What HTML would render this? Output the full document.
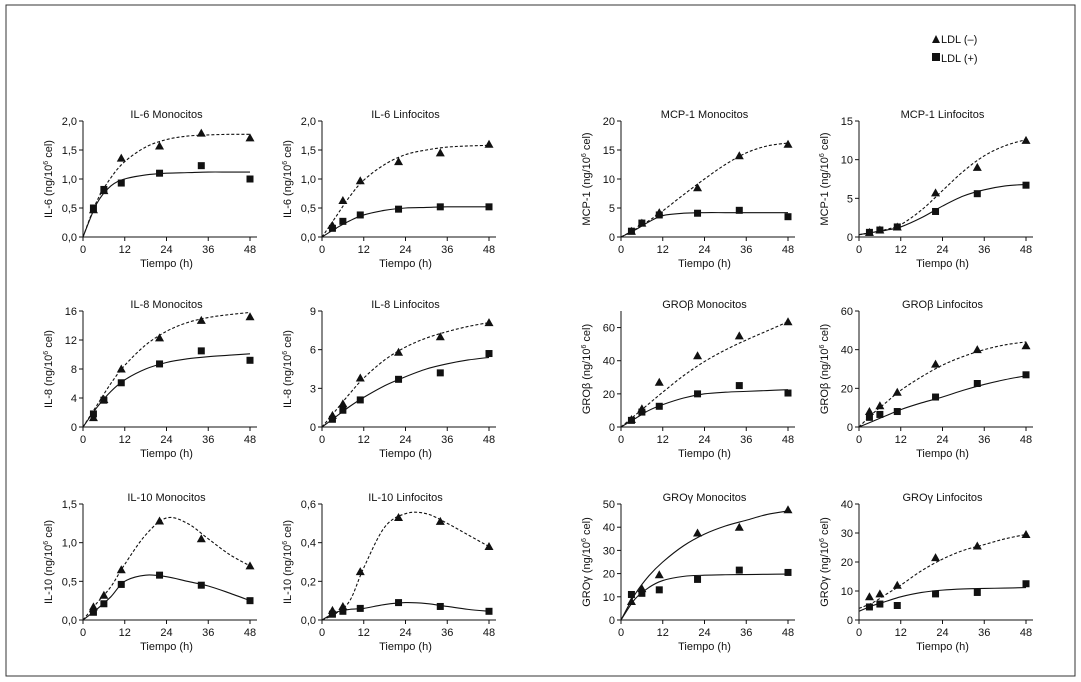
<!DOCTYPE html>
<html><head><meta charset="utf-8">
<style>
html,body{margin:0;padding:0;background:#fff;}
svg{display:block;font-family:"Liberation Sans",Arial,sans-serif;}
</style></head>
<body>
<svg id="fig" width="1081" height="682" viewBox="0 0 1081 682">
<rect x="6" y="5" width="1069" height="671" fill="none" stroke="#333" stroke-width="1"/>
<g>
<polygon points="932,43 936,35 940,43" fill="#111"/>
<text x="941" y="43" font-size="11" fill="#111">LDL (–)</text>
<rect x="932" y="53" width="8" height="8" fill="#111"/>
<text x="941" y="62" font-size="11" fill="#111">LDL (+)</text>
</g>
</svg>
<script>
const times=[3,6,11,22,34,48];
const curveT=[0,4,8,12,18,24,30,36,42,48];
const xTicks=[0,12,24,36,48];
const titles=["IL-6 Monocitos","IL-6 Linfocitos","MCP-1 Monocitos","MCP-1 Linfocitos","IL-8 Monocitos","IL-8 Linfocitos","GROβ Monocitos","GROβ Linfocitos","IL-10 Monocitos","IL-10 Linfocitos","GROγ Monocitos","GROγ Linfocitos"];
const yNames=["IL-6","IL-6","MCP-1","MCP-1","IL-8","IL-8","GROβ","GROβ","IL-10","IL-10","GROγ","GROγ"];
const yMax=[2,2,20,15,16,9,70,60,1.5,0.6,50,40];
const yTicks=[[0,0.5,1,1.5,2],[0,0.5,1,1.5,2],[0,5,10,15,20],[0,5,10,15],[0,4,8,12,16],[0,3,6,9],[0,20,40,60],[0,20,40,60],[0,0.5,1,1.5],[0,0.2,0.4,0.6],[0,10,20,30,40,50],[0,10,20,30,40]];
const yDec=[1,1,0,0,0,0,0,0,1,1,0,0];
const triVals=[
[0.47,0.8,1.36,1.57,1.79,1.71],
[0.2,0.63,0.97,1.3,1.45,1.6],
[1,2.4,4.2,8.5,14,16],
[0.6,0.9,1.3,5.7,9,12.5],
[1.3,3.8,8,12.3,14.7,15.2],
[0.9,1.8,3.8,5.8,7,8.1],
[4.5,11,27,43,55,63.5],
[8,11,18,32.5,40,42],
[0.17,0.32,0.65,1.28,1.05,0.7],
[0.05,0.07,0.25,0.53,0.51,0.38],
[8,13.5,19.5,37.5,40,47.5],
[8,9,12,21.5,25.5,29.5]];
const sqVals=[
[0.5,0.82,0.93,1.1,1.23,1.0],
[0.15,0.27,0.38,0.48,0.52,0.52],
[1,2.4,3.8,4.1,4.6,3.5],
[0.6,0.9,1.3,3.3,5.6,6.7],
[1.8,3.7,6.1,8.7,10.5,9.2],
[0.6,1.3,2.1,3.7,4.2,5.7],
[4,9,12.5,20,25,20.5],
[5,6.5,8,15.5,22.5,27],
[0.1,0.21,0.46,0.58,0.45,0.25],
[0.03,0.045,0.06,0.09,0.07,0.045],
[11,11.5,13,17.5,21.5,20.5],
[4.5,5.5,5,9,9.5,12.5]];
const fitMinus=[
[0,0.62,1.02,1.3,1.55,1.68,1.74,1.76,1.77,1.77],
[0,0.35,0.7,0.98,1.25,1.42,1.5,1.55,1.57,1.58],
[0,1.3,2.8,4.5,7.3,10,12.5,14.5,15.7,16.2],
[0.3,0.6,1,1.6,3.5,6,8.5,10.5,11.8,12.6],
[0,3,6,8.5,11.3,13.2,14.4,15.1,15.5,15.8],
[0,1.3,2.6,3.8,5.2,6.2,6.9,7.4,7.8,8.1],
[0,7,14,21,31,39.5,46.5,52.5,58,63.5],
[0,7,13,19,26,32,36.5,40,42.5,44],
[0,0.22,0.43,0.72,1.1,1.32,1.25,1.05,0.85,0.7],
[0,0.035,0.1,0.27,0.48,0.55,0.55,0.5,0.44,0.38],
[0,11,19,25,32,37,40.5,43,45.5,47],
[4,6,9,12,17,21,24,26,28,29.5]];
const fitPlus=[
[0,0.58,0.88,1.0,1.07,1.1,1.11,1.12,1.12,1.12],
[0,0.15,0.28,0.38,0.46,0.5,0.51,0.52,0.52,0.52],
[0,1.2,2.6,3.7,4.1,4.2,4.2,4.2,4.2,4.2],
[0.3,0.6,0.9,1.3,2.5,4,5.3,6.1,6.6,6.8],
[0,2.7,4.9,6.5,8,8.9,9.4,9.7,9.9,10.1],
[0,0.8,1.6,2.3,3.2,3.9,4.5,4.9,5.2,5.4],
[0,5,10,13.5,17.5,20,21,21.5,22,22.5],
[0,3,6,9,12.5,15.5,19,22,24.5,26.5],
[0,0.14,0.3,0.5,0.58,0.56,0.5,0.44,0.35,0.25],
[0,0.04,0.055,0.06,0.08,0.09,0.085,0.07,0.055,0.045],
[0,9,14,17,18.8,19.3,19.5,19.6,19.7,19.8],
[3,5,6.5,8,9.5,10.3,10.7,10.9,11,11.2]];
const minusDashed=[1,1,1,1,1,1,1,1,1,1,0,1];

const NS="http://www.w3.org/2000/svg";
const svg=document.getElementById('fig');
const colX=[83,322,621,859], rowY=[237,427,620], PW=167, PH=116;
function mk(tag,attrs,parent){const e=document.createElementNS(NS,tag);for(const k in attrs)e.setAttribute(k,attrs[k]);(parent||svg).appendChild(e);return e;}
function fmt(v,d){return d?v.toFixed(1).replace('.',','):String(v);}
function spline(pts){let d=`M${pts[0][0]},${pts[0][1]}`;for(let i=0;i<pts.length-1;i++){const p0=pts[Math.max(0,i-1)],p1=pts[i],p2=pts[i+1],p3=pts[Math.min(pts.length-1,i+2)];const c1x=p1[0]+(p2[0]-p0[0])/6,c1y=p1[1]+(p2[1]-p0[1])/6,c2x=p2[0]-(p3[0]-p1[0])/6,c2y=p2[1]-(p3[1]-p1[1])/6;d+=` C${c1x},${c1y} ${c2x},${c2y} ${p2[0]},${p2[1]}`;}return d;}

for(let p=0;p<12;p++){
  const x0=colX[p%4], y0=rowY[Math.floor(p/4)];
  const xs=t=>x0+t/48*PW;
  const ys=v=>y0-v/yMax[p]*PH;
  const g=mk('g',{});
  
  
  const title=mk('text',{x:x0+PW/2,y:y0-PH-3,'font-size':11,'text-anchor':'middle',fill:'#111'},g);
  title.textContent=titles[p];
  
  
  const ax=mk('path',{d:`M${x0},${ys(yMax[p])}V${y0}H${x0+PW+7}`,stroke:'#111','stroke-width':1,fill:'none'},g);
  
  
  yTicks[p].forEach(v=>{
    const tk=mk('line',{x1:x0-4,x2:x0,y1:ys(v),y2:ys(v),stroke:'#111'},g);
    
    
    const tl=mk('text',{x:x0-6,y:ys(v)+4,'font-size':11,'text-anchor':'end',fill:'#111'},g);
    tl.textContent=fmt(v,yDec[p]);
    
    
  });
  xTicks.forEach(t=>{
    const tk=mk('line',{x1:xs(t),x2:xs(t),y1:y0,y2:y0+4,stroke:'#111'},g);
    
    
    const tl=mk('text',{x:xs(t),y:y0+16,'font-size':11,'text-anchor':'middle',fill:'#111'},g);
    tl.textContent=t;
    
    
  });
  const xl=mk('text',{x:x0+PW/2,y:y0+30,'font-size':11,'text-anchor':'middle',fill:'#111'},g);
  xl.textContent='Tiempo (h)';
  
  
  const cy=y0-PH/2, cx=x0-31;
  const yl=mk('text',{x:cx,y:cy,'font-size':11,'text-anchor':'middle',fill:'#111',transform:`rotate(-90 ${cx} ${cy})`},g);
  yl.innerHTML=yNames[p]+' (ng/10<tspan font-size="7" dy="-4">6</tspan><tspan dy="4"> cel)</tspan>';
  
  
  const c1=mk('path',{d:spline(curveT.map((t,i)=>[xs(t),ys(fitMinus[p][i])])),fill:'none',stroke:'#111','stroke-width':1.1,'stroke-dasharray':minusDashed[p]?'3,2':'none'},g);
  
  
  const c2=mk('path',{d:spline(curveT.map((t,i)=>[xs(t),ys(fitPlus[p][i])])),fill:'none',stroke:'#111','stroke-width':1.1},g);
  
  
  times.forEach((t,i)=>{
    const X=xs(t),Y=ys(triVals[p][i]);
    const tr=mk('polygon',{points:`${X-4.5},${Y+3.5} ${X},${Y-4.5} ${X+4.5},${Y+3.5}`,fill:'#111'},g);
    
    
  });
  times.forEach((t,i)=>{
    const X=xs(t),Y=ys(sqVals[p][i]);
    const sq=mk('rect',{x:X-3.5,y:Y-3.5,width:7,height:7,fill:'#111'},g);
    
    
  });
}
</script>
</body></html>
